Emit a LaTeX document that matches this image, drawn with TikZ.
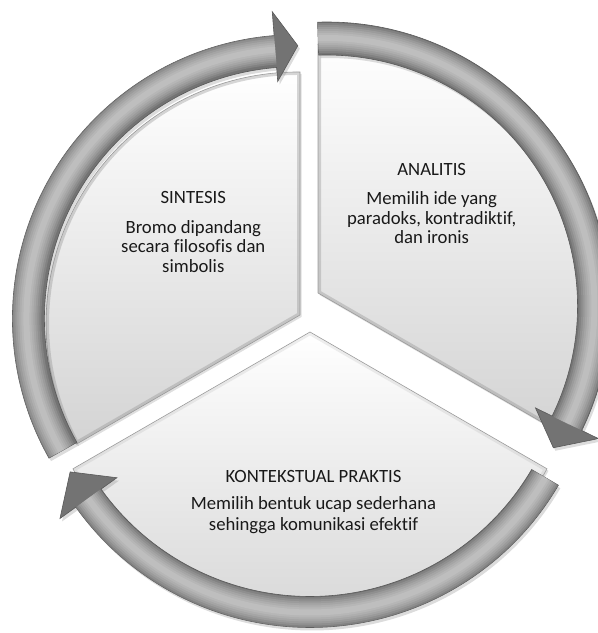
\documentclass[tikz,border=0pt]{standalone}
\usepackage{fontspec}
\setmainfont{Carlito}[Ligatures=NoCommon]
\usetikzlibrary{calc,shadows}
\begin{document}
\begin{tikzpicture}[x=1pt,y=1pt,
  sectorbox/.style={top color=white, bottom color=black!17, draw=black!38, line width=0.6pt,
    drop shadow={opacity=0.25,shadow xshift=1.5pt,shadow yshift=-2pt}},
  ringbody/.style={fill=black!55, draw=black!65, line width=0.6pt,
    drop shadow={opacity=0.28,shadow xshift=2pt,shadow yshift=-3pt}},
  glow/.style={white, opacity=0.11},
  bevel/.style={draw=black!45, opacity=0.35, line width=6pt},
  lbl/.style={anchor=base, font=\fontsize{18.7}{20}\selectfont, text=black!90, inner sep=0pt},
]
\useasboundingbox (0,0) rectangle (598,633);
\clip (0,0) rectangle (598,633);
% ring and sector centres
\coordinate (CA) at (326.5,327);
\coordinate (CS) at (296.4,314.3);
\coordinate (CB) at (310,293.5);
\coordinate (VA) at (318,340);
\coordinate (VS) at (300,318);
\coordinate (VB) at (310,301);
% sector paths
\def\secSpath{(VS) -- (300,561) arc[start angle=89.55,end angle=208.47,radius=252pt] -- cycle}
\def\secApath{(VA) -- (318,588.9) arc[start angle=91.86,end angle=-28.47,radius=262pt] -- cycle}
\def\secBpath{(VB) -- (547,164.2) arc[start angle=-28.6,end angle=-151.4,radius=270pt] -- cycle}
% ring paths
\def\ringApath{($(CA)+(91.8:284pt)$) arc[start angle=91.8,end angle=-26,radius=284pt]
  -- ($(CA)+(-26:302.5pt)$) -- ($(CA)+(-32:267.5pt)$) -- ($(CA)+(-26:232.5pt)$)
  -- ($(CA)+(-26:251pt)$) arc[start angle=-26,end angle=91.8,radius=251pt] -- cycle}
\def\ringSpath{($(CS)+(209.4:284pt)$) arc[start angle=209.4,end angle=94.5,radius=284pt]
  -- ($(CS)+(94.5:308pt)$) -- ($(CS)+(89.7:273pt)$) -- ($(CS)+(94.5:238pt)$)
  -- ($(CS)+(94.5:252pt)$) arc[start angle=94.5,end angle=209.4,radius=252pt] -- cycle}
\def\ringBpath{($(CB)+(329.6:288pt)$) arc[start angle=329.6,end angle=215.6,radius=288pt]
  -- ($(CB)+(215.6:307.5pt)$) -- ($(CB)+(208.9:274pt)$) -- ($(CB)+(215.6:237.5pt)$)
  -- ($(CB)+(215.6:257pt)$) arc[start angle=215.6,end angle=329.6,radius=257pt] -- cycle}
% tube highlight: layered strokes along the ring's middle
\newcommand\tubeglow[4]{% centre, start, end, radius
  \foreach \w in {30,26,22,18,14,10,6}{
    \draw[glow,line width=\w pt] ($(#1)+(#2:#4pt)$) arc[start angle=#2,end angle=#3,radius=#4pt];}}

% sectors
\path[sectorbox] \secSpath;
\begin{scope}\clip \secSpath; \path[bevel] \secSpath; \end{scope}
\path[sectorbox] \secApath;
\begin{scope}\clip \secApath; \path[bevel] \secApath; \end{scope}
\path[sectorbox] \secBpath;
\begin{scope}\clip \secBpath; \path[bevel,opacity=0.15] \secBpath; \end{scope}

% rings
\path[ringbody] \ringSpath;
\begin{scope}\clip \ringSpath; \tubeglow{CS}{209.4}{94.5}{270} \end{scope}
\path[ringbody] \ringApath;
\begin{scope}\clip \ringApath; \tubeglow{CA}{91.8}{-26}{268} \end{scope}
\path[ringbody] \ringBpath;
\begin{scope}\clip \ringBpath; \tubeglow{CB}{329.6}{215.6}{273} \end{scope}

% texts
\node[lbl] (s-title) at (193.3,429) {SINTESIS};
\node[lbl] (s-l1) at (193.3,399.5) {Bromo dipandang};
\node[lbl] (s-l2) at (193.3,380) {secara filosofis dan};
\node[lbl] (s-l3) at (193.3,360.5) {simbolis};
\node[lbl] (a-title) at (431.7,457.5) {ANALITIS};
\node[lbl] (a-l1) at (431.7,428) {Memilih ide yang};
\node[lbl] (a-l2) at (431.7,408.5) {paradoks, kontradiktif,};
\node[lbl] (a-l3) at (431.7,389) {dan ironis};
\node[lbl] (b-title) at (313.5,150.5) {KONTEKSTUAL PRAKTIS};
\node[lbl] (b-l1) at (313.5,123) {Memilih bentuk ucap sederhana};
\node[lbl] (b-l2) at (313.5,102.5) {sehingga komunikasi efektif};
\end{tikzpicture}
\end{document}
